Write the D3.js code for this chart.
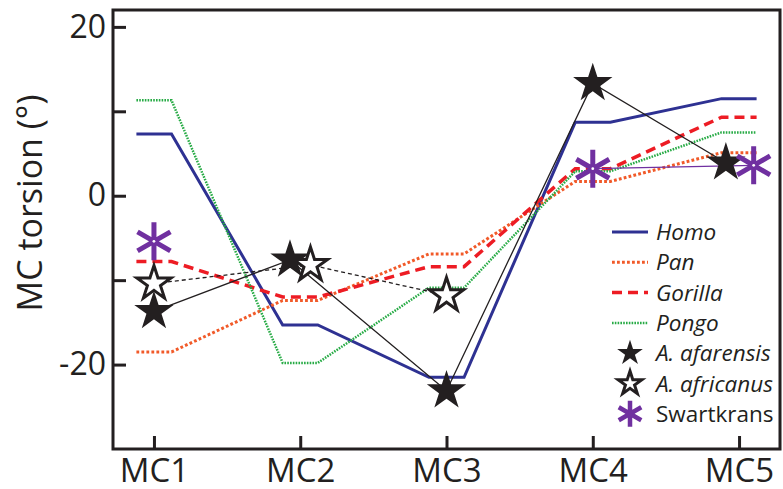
<!DOCTYPE html>
<html>
<head>
<meta charset="utf-8">
<script src="https://cdn.jsdelivr.net/npm/d3@7"></script>
<style>
  body { margin: 0; background: #fff; }
  text { font-family: "Open Sans", sans-serif; fill: #231f20; }
</style>
</head>
<body>
<div id="chart"></div>
<script>
const bones = ["MC1", "MC2", "MC3", "MC4", "MC5"];

const homo = [7.3, -15.3, -21.5, 8.7, 11.5];
const pan = [-18.5, -12.4, -6.9, 1.7, 5.1];
const gorilla = [-7.8, -12.0, -8.4, 3.2, 9.3];
const pongo = [11.3, -19.8, -10.9, 2.9, 7.5];

const afarensis = [-13.7, -7.6, -23.1, 13.3, 3.9];
const africanus = [-10.4, -8.2, -11.8, null, null];
const swartkrans = [-5.4, null, null, 3.2, 3.6];

const yTicks = [20, 10, 0, -10, -20];
const yLabelTicks = [20, 0, -20];

// small horizontal shifts so the fossil markers don't overlap (fraction of step)
const afarensisShift = [0, -0.07, 0, 0, -0.09];
const africanusShift = [0, 0.07, 0, 0, 0];
const swartkransShift = [0, 0, 0, 0, 0.1];

const width = 783;
const height = 489;
const plot = { left: 113, right: 780, top: 10, bottom: 449 };
const ink = "#231f20";

const svg = d3
  .select("#chart")
  .append("svg")
  .attr("width", width)
  .attr("height", height);

const x = d3.scalePoint().domain(bones).range([plot.left, plot.right]).padding(0.28);
const y = d3.scaleLinear().domain([-30, 22]).range([plot.bottom, plot.top]);
const step = x.step();
const flat = step * 0.12;

// axes
const yAxis = d3
  .axisLeft(y)
  .tickValues(yTicks)
  .tickSize(-13)
  .tickPadding(7)
  .tickFormat((d) => (yLabelTicks.includes(d) ? String(d) : ""));

const gy = svg.append("g").attr("transform", `translate(${plot.left},0)`).call(yAxis);
gy.select(".domain").remove();
gy.selectAll("line").attr("stroke", ink).attr("stroke-width", 3);
gy.selectAll("text").style("font-size", "32px").attr("fill", ink);

const xAxis = d3.axisBottom(x).tickSize(-13).tickPadding(10);
const gx = svg.append("g").attr("transform", `translate(0,${plot.bottom})`).call(xAxis);
gx.select(".domain").remove();
gx.selectAll("line").attr("stroke", ink).attr("stroke-width", 3);
gx.selectAll("text").style("font-size", "33px").attr("fill", ink);

svg
  .append("rect")
  .attr("x", plot.left)
  .attr("y", plot.top)
  .attr("width", plot.right - plot.left)
  .attr("height", plot.bottom - plot.top)
  .attr("fill", "none")
  .attr("stroke", ink)
  .attr("stroke-width", 3);

svg
  .append("text")
  .attr("transform", "translate(30,203) rotate(-90)")
  .attr("text-anchor", "middle")
  .attr("dy", "0.35em")
  .style("font-size", "34px")
  .text("MC torsion (°)");

// species lines, flat across each bone then straight to the next
const species = [
  { name: "Homo", values: homo, color: "#2e3192", w: 3, dash: null },
  { name: "Pan", values: pan, color: "#f15a29", w: 3, dash: "2.8,2.2" },
  { name: "Gorilla", values: gorilla, color: "#ed1c24", w: 3.5, dash: "10,6" },
  { name: "Pongo", values: pongo, color: "#27ab45", w: 2.5, dash: "1.6,1.2" },
];

const line = d3
  .line()
  .x((d) => d[0])
  .y((d) => d[1]);

species.forEach((s) => {
  const pts = [];
  s.values.forEach((v, i) => {
    const cx = x(bones[i]);
    pts.push([cx - flat, y(v)], [cx + flat, y(v)]);
  });
  svg
    .append("path")
    .attr("d", line(pts))
    .attr("fill", "none")
    .attr("stroke", s.color)
    .attr("stroke-width", s.w)
    .attr("stroke-dasharray", s.dash);
});

// fossil markers
const starSize = (r) => (r * r) / 0.8908130915292852;
const asteriskSize = (r) => (r / 0.59436) ** 2 - 0.75;

const fossilPoints = (values, shift) =>
  values.map((v, i) => ({ v, px: x(bones[i]) + shift[i] * step }));

const fossilLine = d3
  .line()
  .defined((d) => d.v != null)
  .x((d) => d.px)
  .y((d) => y(d.v));

const afaPts = fossilPoints(afarensis, afarensisShift);
const afrPts = fossilPoints(africanus, africanusShift);
const swaPts = fossilPoints(swartkrans, swartkransShift);

svg.append("path").attr("d", fossilLine(afrPts))
  .attr("fill", "none").attr("stroke", ink).attr("stroke-width", 1.3)
  .attr("stroke-dasharray", "4,3");
svg.append("path").attr("d", fossilLine(afaPts))
  .attr("fill", "none").attr("stroke", ink).attr("stroke-width", 1.3);
svg.append("path").attr("d", fossilLine(swaPts))
  .attr("fill", "none").attr("stroke", "#7030a0").attr("stroke-width", 1.3);

svg.selectAll(".afr")
  .data(afrPts.filter((d) => d.v != null))
  .enter()
  .append("path")
  .attr("transform", (d) => `translate(${d.px},${y(d.v)})`)
  .attr("d", d3.symbol(d3.symbolStar, starSize(18)))
  .attr("fill", "#fff")
  .attr("stroke", ink)
  .attr("stroke-width", 3);

svg.selectAll(".afa")
  .data(afaPts.filter((d) => d.v != null))
  .enter()
  .append("path")
  .attr("transform", (d) => `translate(${d.px},${y(d.v)})`)
  .attr("d", d3.symbol(d3.symbolStar, starSize(20.7)))
  .attr("fill", ink);

const swa = svg.selectAll(".swa")
  .data(swaPts.filter((d) => d.v != null))
  .enter()
  .append("g")
  .attr("transform", (d) => `translate(${d.px},${y(d.v)})`);
swa.append("path")
  .attr("d", d3.symbol(d3.symbolAsterisk, asteriskSize(19)))
  .attr("fill", "none")
  .attr("stroke", "#7030a0")
  .attr("stroke-width", 5);
swa.append("circle").attr("r", 1.4).attr("fill", "#fff");

// legend
const legend = svg.append("g");
const rowY = (i) => 232 + i * 30.3;

species.forEach((s, i) => {
  legend.append("line")
    .attr("x1", 612).attr("x2", 648)
    .attr("y1", rowY(i)).attr("y2", rowY(i))
    .attr("stroke", s.color)
    .attr("stroke-width", s.w)
    .attr("stroke-dasharray", s.dash);
});

legend.append("path")
  .attr("transform", `translate(630,${rowY(4)})`)
  .attr("d", d3.symbol(d3.symbolStar, starSize(13.5)))
  .attr("fill", ink);
legend.append("path")
  .attr("transform", `translate(630,${rowY(5)})`)
  .attr("d", d3.symbol(d3.symbolStar, starSize(12.5)))
  .attr("fill", "#fff").attr("stroke", ink).attr("stroke-width", 3);
legend.append("path")
  .attr("transform", `translate(630,${rowY(6)})`)
  .attr("d", d3.symbol(d3.symbolAsterisk, asteriskSize(13)))
  .attr("fill", "none").attr("stroke", "#7030a0").attr("stroke-width", 4.5);

const legendLabels = ["Homo", "Pan", "Gorilla", "Pongo", "A. afarensis", "A. africanus", "Swartkrans"];
legend.selectAll(".lbl")
  .data(legendLabels)
  .enter()
  .append("text")
  .attr("x", 656)
  .attr("y", (d, i) => rowY(i))
  .attr("dy", "0.36em")
  .style("font-size", "22.5px")
  .style("font-style", (d) => (d === "Swartkrans" ? "normal" : "italic"))
  .text((d) => d);
</script>
</body>
</html>
